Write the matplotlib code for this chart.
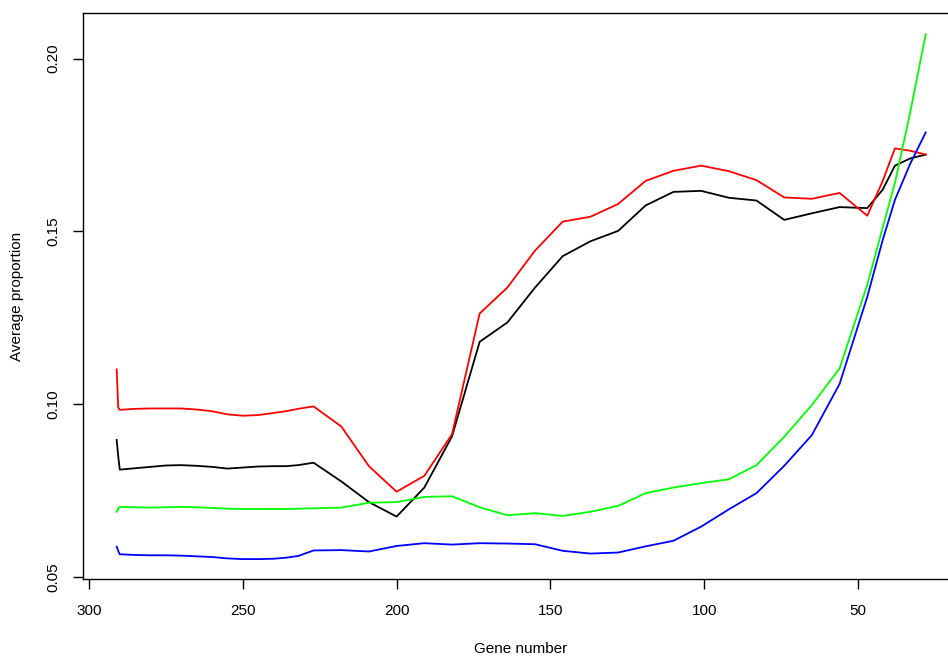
import matplotlib
matplotlib.use("Agg")
import matplotlib.pyplot as plt

# gene number (plotted on a reversed axis)
genes = [291, 290.5, 290, 285, 280, 275, 270, 265, 260, 255, 250, 245, 240, 236, 232,
         227, 218, 209, 200, 191, 182, 173, 164, 155, 146, 137, 128, 119, 110, 101,
         92, 83, 74, 65, 56, 47, 42, 38, 33, 28]

black_vals = [0.0896, 0.0849, 0.0810, 0.0814, 0.0818, 0.0822, 0.0823, 0.0821, 0.0818, 0.0813,
              0.0816, 0.0819, 0.0820, 0.0820, 0.0823, 0.0830, 0.0776, 0.0716, 0.0674, 0.0758,
              0.0906, 0.1180, 0.1236, 0.1337, 0.1428, 0.1471, 0.1501, 0.1575, 0.1614, 0.1617,
              0.1597, 0.1589, 0.1533, 0.1552, 0.1570, 0.1567, 0.1620, 0.1690, 0.1711, 0.1722]

red_vals = [0.1100, 0.0990, 0.0983, 0.0986, 0.0987, 0.0987, 0.0987, 0.0984, 0.0979, 0.0970,
            0.0966, 0.0968, 0.0974, 0.0979, 0.0986, 0.0993, 0.0935, 0.0820, 0.0746, 0.0792,
            0.0912, 0.1262, 0.1337, 0.1444, 0.1528, 0.1542, 0.1579, 0.1646, 0.1675, 0.1690,
            0.1674, 0.1648, 0.1598, 0.1594, 0.1611, 0.1545, 0.1645, 0.1740, 0.1733, 0.1722]

green_vals = [0.0688, 0.0697, 0.0702, 0.0701, 0.0700, 0.0701, 0.0702, 0.0701, 0.0699, 0.0697,
              0.0696, 0.0696, 0.0696, 0.0696, 0.0697, 0.0698, 0.0700, 0.0714, 0.0716, 0.0731,
              0.0733, 0.0701, 0.0678, 0.0684, 0.0676, 0.0688, 0.0705, 0.0742, 0.0758, 0.0771,
              0.0782, 0.0823, 0.0905, 0.0997, 0.1103, 0.1345, 0.1510, 0.1640, 0.1846, 0.2070]

blue_vals = [0.0587, 0.0575, 0.0565, 0.0563, 0.0562, 0.0562, 0.0561, 0.0559, 0.0557, 0.0553,
             0.0551, 0.0551, 0.0552, 0.0555, 0.0560, 0.0576, 0.0577, 0.0573, 0.0589, 0.0597,
             0.0593, 0.0597, 0.0596, 0.0594, 0.0575, 0.0567, 0.0570, 0.0588, 0.0604, 0.0645,
             0.0695, 0.0742, 0.0821, 0.0910, 0.1058, 0.1310, 0.1474, 0.1591, 0.1696, 0.1786]

xticks = [300, 250, 200, 150, 100, 50]
yticks = [0.05, 0.10, 0.15, 0.20]

plt.rcParams['font.family'] = ['Liberation Sans', 'DejaVu Sans']

W, H = 948, 656
fig = plt.figure(figsize=(W / 100, H / 100), dpi=100)
left, right, top, bottom = 83.3, 958.0, 13.3, 579.3
ax = fig.add_axes([left / W, 1 - bottom / H, (right - left) / W, (bottom - top) / H])

lw = 1.3
ax.plot(genes, black_vals, color='black', lw=lw)
ax.plot(genes, red_vals, color='#ff0000', lw=lw)
ax.plot(genes, green_vals, color='#00ff00', lw=lw)
ax.plot(genes, blue_vals, color='#0000ff', lw=lw)

ax.set_xlim(301.85, 17.5)
ax.set_ylim(0.04925, 0.2131)
ax.set_xticks(xticks)
ax.set_xticklabels([str(t) for t in xticks])
ax.set_yticks(yticks)
ax.set_yticklabels(['%.2f' % t for t in yticks], rotation=90, va='center')

for s in ax.spines.values():
    s.set_linewidth(1.0)
ax.tick_params(direction='out', length=7.5, width=1.0, labelsize=11, colors='black')
ax.tick_params(axis='x', pad=10)
ax.tick_params(axis='y', pad=9)

fig.text(520.7 / W, 1 - 649 / H, 'Gene number', ha='center', va='center', fontsize=11)
fig.text(17 / W, 1 - 296.3 / H, 'Average proportion', ha='center', va='center',
         rotation=90, fontsize=11)

fig.savefig('out.png', dpi=100)
